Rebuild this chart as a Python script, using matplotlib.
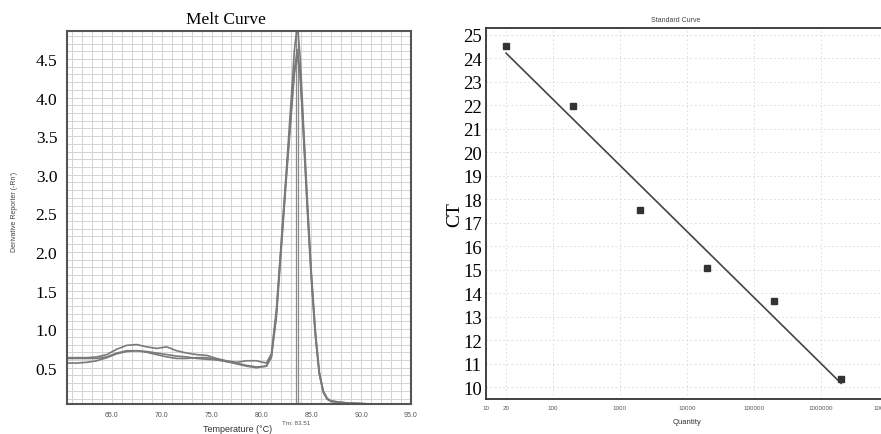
import numpy as np
import matplotlib
matplotlib.use("Agg")
import matplotlib.pyplot as plt
from matplotlib.ticker import FixedLocator, MultipleLocator, NullFormatter

# ---- melt curve data ----
temps = [60.5, 61.5, 62.5, 63.5, 64.5, 65.5, 66.5, 67.5, 68.5, 69.5,
         70.5, 71.5, 72.5, 73.5, 74.5, 75.5, 76.5, 77.5, 78.5, 79.5,
         80.5, 81.0, 81.5, 82.0, 82.5, 83.0, 83.3, 83.6, 83.9, 84.2,
         84.6, 85.0, 85.4, 85.8, 86.2, 86.6, 87.0, 88.0, 89.0, 90.0,
         91.0, 92.0, 93.0, 94.0, 95.0]

melt_a = [0.63, 0.63, 0.63, 0.64, 0.67, 0.74, 0.79, 0.80, 0.77, 0.75,
          0.77, 0.72, 0.69, 0.67, 0.66, 0.62, 0.59, 0.57, 0.59, 0.59,
          0.56, 0.68, 1.25, 2.15, 3.05, 4.00, 4.60, 4.95, 4.50, 3.70,
          2.70, 1.75, 1.00, 0.45, 0.20, 0.10, 0.07, 0.05, 0.04, 0.035,
          0.03, 0.03, 0.025, 0.02, 0.02]
melt_b = [0.56, 0.56, 0.57, 0.59, 0.63, 0.68, 0.71, 0.72, 0.71, 0.69,
          0.67, 0.65, 0.64, 0.62, 0.61, 0.60, 0.58, 0.56, 0.53, 0.51,
          0.52, 0.65, 1.20, 2.10, 3.00, 3.85, 4.35, 4.62, 4.30, 3.60,
          2.60, 1.70, 0.95, 0.43, 0.19, 0.10, 0.07, 0.05, 0.04, 0.035,
          0.03, 0.03, 0.025, 0.02, 0.02]
melt_c = [0.62, 0.62, 0.62, 0.62, 0.64, 0.69, 0.72, 0.72, 0.70, 0.67,
          0.64, 0.62, 0.62, 0.63, 0.63, 0.61, 0.58, 0.55, 0.52, 0.50,
          0.52, 0.63, 1.15, 2.05, 2.95, 3.80, 4.30, 4.55, 4.25, 3.55,
          2.55, 1.65, 0.92, 0.42, 0.18, 0.09, 0.06, 0.05, 0.04, 0.035,
          0.03, 0.03, 0.025, 0.02, 0.02]
tm_lines = [83.45, 83.65]

# ---- standard curve data ----
quantity = [20, 200, 2000, 20000, 200000, 2000000]
ct = [24.55, 21.97, 17.55, 15.09, 13.67, 10.34]
qty_ticks = [10, 20, 100, 1000, 10000, 100000, 1000000, 10000000]
qty_labels = ["10", "20", "100", "1000", "10000", "100000", "1000000", "10000000"]

serif = "Liberation Serif"
sans = "Liberation Sans"

fig = plt.figure(figsize=(8.81, 4.35), dpi=100)

# ---- left: melt curve ----
ax1 = fig.add_axes([0.076, 0.069, 0.3905, 0.857])
ax1.set_xlim(60.5, 95)
ax1.set_ylim(0.03, 4.86)
ax1.xaxis.set_major_locator(FixedLocator([65, 70, 75, 80, 85, 90, 95]))
ax1.xaxis.set_minor_locator(MultipleLocator(1))
ax1.yaxis.set_major_locator(FixedLocator([0.5, 1.0, 1.5, 2.0, 2.5, 3.0, 3.5, 4.0, 4.5]))
ax1.yaxis.set_minor_locator(MultipleLocator(0.1))
ax1.grid(which="minor", color="#d4d4d4", linewidth=0.75)
ax1.grid(which="major", color="#d4d4d4", linewidth=0.75)
ax1.set_axisbelow(True)
for t in tm_lines:
    ax1.axvline(t, color="#8a8a8a", linewidth=0.9)
for ys in (melt_c, melt_b, melt_a):
    ax1.plot(temps, ys, color="#7a7a7a", linewidth=1.2)
ax1.tick_params(which="both", length=0)
ax1.tick_params(axis="y", pad=7, labelsize=12.5)
ax1.tick_params(axis="x", pad=5, labelsize=5, labelcolor="#555555")
ax1.set_xticklabels(["%.1f" % v for v in [65, 70, 75, 80, 85, 90, 95]])
for lab in ax1.get_yticklabels():
    lab.set_fontfamily(serif)
for lab in ax1.get_xticklabels():
    lab.set_fontfamily(sans)
for sp in ax1.spines.values():
    sp.set_color("#555555")
    sp.set_linewidth(1.5)

fig.text(226 / 881, 1 - 20 / 435, "Melt Curve", family=serif, fontsize=12.5,
         ha="center", va="center")
fig.text(15 / 881, 1 - 212 / 435, "Derivative Reporter (-Rn')", family=sans,
         fontsize=5, color="#444444", rotation=90, ha="center", va="center")
fig.text(238 / 881, 1 - 430 / 435, "Temperature (°C)", family=sans,
         fontsize=6.5, color="#333333", ha="center", va="center")
fig.text(296 / 881, 1 - 424 / 435, "Tm: 83.51", family=sans,
         fontsize=4.5, color="#555555", ha="center", va="center")

# ---- right: standard curve ----
ax2 = fig.add_axes([0.5516, 0.0805, 0.4563, 0.853])
ax2.set_xscale("log")
ax2.set_xlim(10, 1e7)
ax2.set_ylim(9.5, 25.3)
ax2.xaxis.set_major_locator(FixedLocator(qty_ticks))
ax2.xaxis.set_minor_formatter(NullFormatter())
ax2.xaxis.set_minor_locator(FixedLocator([]))
ax2.set_xticklabels(qty_labels)
ax2.yaxis.set_major_locator(MultipleLocator(1))
ax2.grid(which="major", color="#d8d8d8", linewidth=0.6, linestyle=(0, (2, 3)))
ax2.set_axisbelow(True)

logq = np.log10(quantity)
slope, icpt = np.polyfit(logq, ct, 1)
fit_x = np.array([logq[0], logq[-1]])
ax2.plot(10 ** fit_x, slope * fit_x + icpt, color="#444444", linewidth=1.2)
ax2.plot(quantity, ct, linestyle="none", marker="s", markersize=5,
         color="#333333")

ax2.tick_params(which="both", length=0)
ax2.tick_params(axis="y", pad=3, labelsize=13.5)
ax2.tick_params(axis="x", pad=4, labelsize=4.5, labelcolor="#555555")
for lab in ax2.get_yticklabels():
    lab.set_fontfamily(serif)
for lab in ax2.get_xticklabels():
    lab.set_fontfamily(sans)
for sp in ax2.spines.values():
    sp.set_color("#333333")
    sp.set_linewidth(1.3)

fig.text(455 / 881, 1 - 215 / 435, "CT", family=serif, fontsize=14,
         rotation=90, ha="center", va="center")
fig.text(676 / 881, 1 - 20 / 435, "Standard Curve", family=sans,
         fontsize=5, color="#444444", ha="center", va="center")
fig.text(687 / 881, 1 - 423 / 435, "Quantity", family=sans,
         fontsize=5.5, color="#333333", ha="center", va="center")

fig.savefig("out.png", dpi=100)
